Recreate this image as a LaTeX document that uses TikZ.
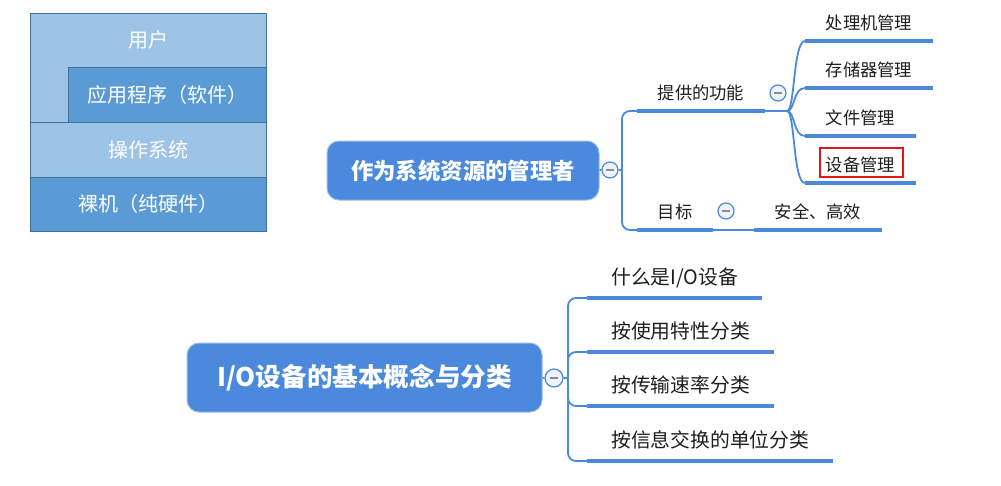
\documentclass[tikz,border=0pt]{standalone}
\usepackage{fontspec}
\usepackage{tikz}
\newfontfamily\cjk{Noto Sans CJK SC}
\definecolor{mmblue} {HTML}{4A89DC}
\definecolor{mmedge} {HTML}{9BBDEB}
\definecolor{mmink}  {HTML}{1E1E1E}
\definecolor{mmminus}{HTML}{8A8A9A}
\definecolor{mmknob} {HTML}{EEF3FA}
\definecolor{mmred}  {HTML}{E8141B}
\definecolor{lylight}{HTML}{9DC3E6}
\definecolor{lydark} {HTML}{5B9BD5}
\definecolor{lyrule} {HTML}{41719C}

\begin{document}
\begin{tikzpicture}[x=1pt, y=-1pt, every node/.style={font=\cjk},
    root/.style={fill=mmblue, draw=mmedge, line width=1pt, rounded corners=12pt,
      text=white, inner sep=0pt},
    topic/.style={anchor=south west, text=mmink, inner xsep=20.5pt, inner ysep=8pt,
      text height=14pt, text depth=3.5pt, font=\cjk\fontsize{17.3}{20}\selectfont},
    bigtopic/.style={topic, inner xsep=24pt, inner ysep=9pt,
      text height=16pt, text depth=4pt, font=\cjk\fontsize{19.8}{23}\selectfont},
    knob/.style={circle, draw=mmblue, fill=mmknob, line width=1.2pt,
      minimum size=16pt, inner sep=0pt,
      path picture={\draw[mmminus, line width=1.6pt]
        ([xshift=-4pt]path picture bounding box.center) --
        ([xshift=4pt]path picture bounding box.center);}},
    link/.style={draw=mmblue, line width=1.8pt},
    uline/.style={draw=mmblue, line width=4pt},
    layer/.style={text=white, font=\cjk\fontsize{20}{24}\selectfont}]
  \useasboundingbox (0,0) rectangle (1001,485);

  % layers of the system
  \filldraw[fill=lylight, draw=lyrule] (30,13) rectangle (266,122);
  \filldraw[fill=lydark, draw=lyrule] (68,67) rectangle (266,122);
  \filldraw[fill=lylight, draw=lyrule] (30,122) rectangle (266,177);
  \filldraw[fill=lydark, draw=lyrule] (30,177) rectangle (266,231);
  \node[layer] (user) at (148,40) {用户};
  \node[layer] (apps) at (167,95) {应用程序（软件）};
  \node[layer] (os) at (148,149.5) {操作系统};
  \node[layer] (hw) at (148,204) {裸机（纯硬件）};

  % first map
  \node[root, minimum width=272pt, minimum height=59pt,
    font=\cjk\bfseries\fontsize{22.4}{26}\selectfont] (mgr) at (463,170.5)
    {作为系统资源的管理者};
  \node[knob] (k1) at (610,170) {};
  \coordinate (j1) at (622,170);
  \node[topic] (func) at (637,111) {提供的功能};
  \node[topic] (goal) at (637,230) {目标};
  \node[knob] (k2) at (778,93) {};
  \coordinate (j2) at (787,111);
  \node[topic] (cpu) at (805,41) {处理机管理};
  \node[topic] (mem) at (805,88) {存储器管理};
  \node[topic] (file) at (805,136) {文件管理};
  \node[topic] (dev) at (805,183) {设备管理};
  \node[knob] (k3) at (726,211) {};
  \node[topic] (safe) at (754,230) {安全、高效};

  \draw[link] (mgr) -- (k1) -- (j1);
  \draw[link, rounded corners=8pt] (j1) |- (func.south west);
  \draw[link, rounded corners=8pt] (j1) |- (goal.south west);
  \draw[link] (func.south east) -- (j2);
  \foreach \n in {cpu,mem,file,dev}
    \draw[link] (j2) .. controls +(8,0) and +(-12,0) .. (\n.south west);
  \draw[link] (goal.south east) -- (safe.south west);
  \draw[mmred, line width=2pt] ([shift={(-40pt,18pt)}]dev.center)
    rectangle ([shift={(43pt,-11pt)}]dev.center);

  % second map
  \node[root, minimum width=355pt, minimum height=69pt,
    font=\cjk\bfseries\fontsize{25.6}{29}\selectfont] (io) at (364.5,377.5)
    {I/O设备的基本概念与分类};
  \node[knob, minimum size=18pt] (k4) at (554,378) {};
  \coordinate (j3) at (568,378);
  \node[bigtopic] (q1) at (587,298) {什么是I/O设备};
  \node[bigtopic] (q2) at (587,352) {按使用特性分类};
  \node[bigtopic] (q3) at (587,406) {按传输速率分类};
  \node[bigtopic] (q4) at (587,461) {按信息交换的单位分类};

  \draw[link] (io) -- (k4) -- (j3);
  \foreach \n in {q1,q2,q3,q4}
    \draw[link, rounded corners=8pt] (j3) |- (\n.south west);

  \foreach \n in {func,goal,cpu,mem,file,dev,safe,q1,q2,q3,q4}
    \draw[uline] (\n.south west) -- (\n.south east);
\end{tikzpicture}
\end{document}
